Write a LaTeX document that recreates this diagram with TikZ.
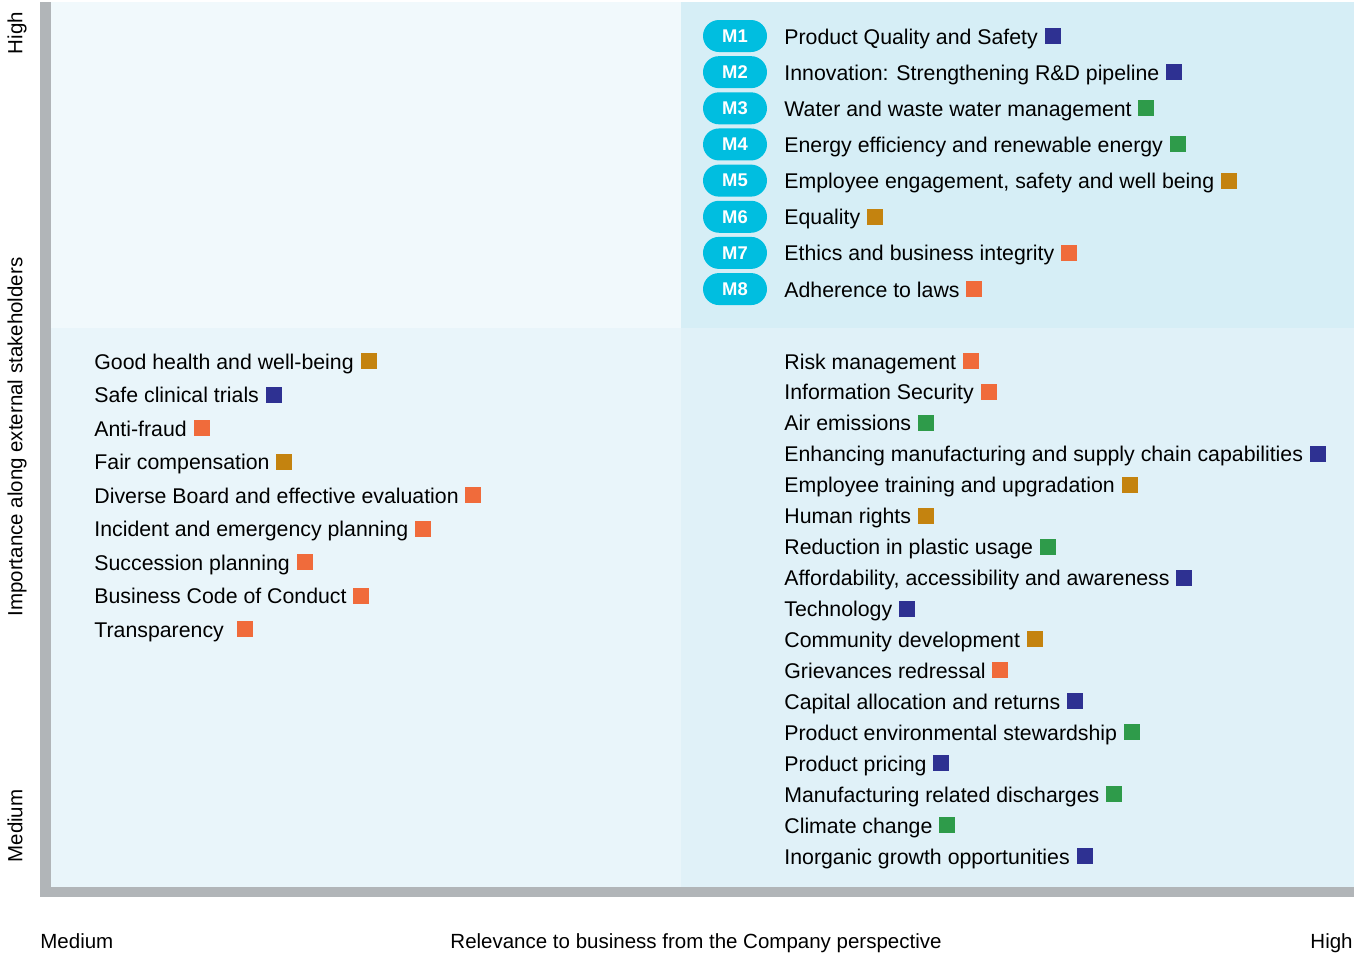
\documentclass[tikz,border=0pt]{standalone}
\usepackage{fontspec}
\setmainfont{Liberation Sans}
\usetikzlibrary{positioning}

\definecolor{qtl}{HTML}{F1F9FC}
\definecolor{qtr}{HTML}{D6EEF6}
\definecolor{qbl}{HTML}{E9F5FA}
\definecolor{qbr}{HTML}{E0F1F8}
\definecolor{axisgray}{HTML}{B1B5B8}
\definecolor{badgecyan}{HTML}{00BEE0}
\definecolor{cblue}{HTML}{2E3192}
\definecolor{cgreen}{HTML}{2E9B4A}
\definecolor{cgold}{HTML}{C4830F}
\definecolor{corange}{HTML}{F06B3B}

\tikzset{
    item/.style={anchor=west, inner sep=0pt, text height=8pt, text depth=0pt,
        font=\fontsize{10.65}{13}\selectfont},
    swatch/.style={fill=#1, minimum size=8pt, inner sep=0pt},
    badge/.style={fill=badgecyan, text=white, rounded corners=8pt,
        minimum width=32pt, minimum height=16pt, inner sep=0pt,
        font=\fontsize{9.2}{10}\selectfont\bfseries},
    axislabel/.style={font=\fontsize{10.25}{12}\selectfont, inner sep=0pt,
        text height=7.5pt, text depth=0pt}
}

\begin{document}
\begin{tikzpicture}[x=0.5pt, y=-0.5pt]
\useasboundingbox (0,0) rectangle (1361,955);

% Quadrants
\fill[qtl] (51,2) rectangle (681,328);
\fill[qtr] (681,2) rectangle (1354,328);
\fill[qbl] (51,328) rectangle (681,887);
\fill[qbr] (681,328) rectangle (1354,887);

% Axes
\fill[axisgray] (40,2) rectangle (51,897);
\fill[axisgray] (40,887) rectangle (1354,897);

% Axis labels
\node[axislabel, rotate=90] (yhigh) at (15,33) {High};
\node[axislabel, rotate=90] (ytitle) at (15,437) {Importance along external stakeholders};
\node[axislabel, rotate=90] (ymed) at (15,826) {Medium};
\node[axislabel, anchor=west] (xmed) at (40,941) {Medium};
\node[axislabel] (xtitle) at (696,941) {Relevance to business from the Company perspective};
\node[axislabel, anchor=east] (xhigh) at (1353,941) {High};

% Material topics
\foreach \t/\c [count=\i] in {
    Product Quality and Safety/cblue,
    Innovation: Strengthening R\&D pipeline/cblue,
    Water and waste water management/cgreen,
    Energy efficiency and renewable energy/cgreen,
    {Employee engagement, safety and well being}/cgold,
    Equality/cgold,
    Ethics and business integrity/corange,
    Adherence to laws/corange}
{
    \node[badge] (m\i) at (735,{36+36.15*(\i-1)}) {M\i};
    \node[item] (mt\i) at (784,{36+36.15*(\i-1)}) {\t};
    \node[swatch=\c, right=3pt of mt\i.east, anchor=west] (ms\i) {};
}

% Medium / medium
\foreach \t/\c [count=\i] in {
    Good health and well-being/cgold,
    Safe clinical trials/cblue,
    Anti-fraud/corange,
    Fair compensation/cgold,
    Diverse Board and effective evaluation/corange,
    Incident and emergency planning/corange,
    Succession planning/corange,
    Business Code of Conduct/corange,
    Transparency\kern3pt/corange}
{
    \node[item] (lt\i) at (94,{361+33.5*(\i-1)}) {\t};
    \node[swatch=\c, right=3pt of lt\i.east, anchor=west] (ls\i) {};
}

% High relevance / medium importance
\foreach \t/\c [count=\i] in {
    Risk management/corange,
    Information Security/corange,
    Air emissions/cgreen,
    Enhancing manufacturing and supply chain capabilities/cblue,
    Employee training and upgradation/cgold,
    Human rights/cgold,
    Reduction in plastic usage/cgreen,
    {Affordability, accessibility and awareness}/cblue,
    Technology/cblue,
    Community development/cgold,
    Grievances redressal/corange,
    Capital allocation and returns/cblue,
    Product environmental stewardship/cgreen,
    Product pricing/cblue,
    Manufacturing related discharges/cgreen,
    Climate change/cgreen,
    Inorganic growth opportunities/cblue}
{
    \node[item] (rt\i) at (784,{361+30.94*(\i-1)}) {\t};
    \node[swatch=\c, right=3pt of rt\i.east, anchor=west] (rs\i) {};
}
\end{tikzpicture}
\end{document}
